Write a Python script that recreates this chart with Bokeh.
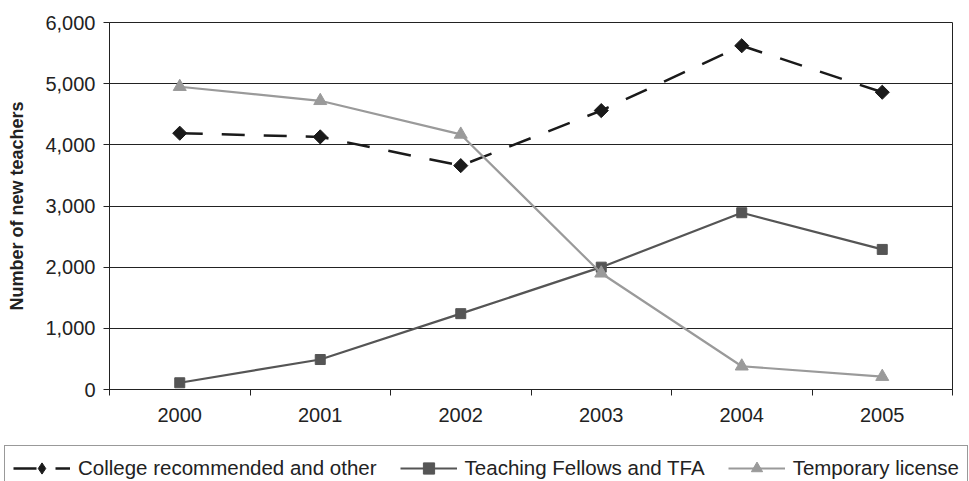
import math
from bokeh.plotting import figure
from bokeh.layouts import column
from bokeh.models import Range1d, FixedTicker, NumeralTickFormatter, Legend, LegendItem
from bokeh.embed import file_html
from bokeh.resources import INLINE

years = ["2000", "2001", "2002", "2003", "2004", "2005"]
college = [4190, 4130, 3660, 4560, 5620, 4860]
fellows = [110, 490, 1240, 2000, 2890, 2290]
temporary = [4950, 4720, 4170, 1900, 380, 210]
y_ticks = [0, 1000, 2000, 3000, 4000, 5000, 6000]
series_names = ["College recommended and other", "Teaching Fellows and TFA", "Temporary license"]

FONT = "Liberation Sans"
c1, c2, c3 = "#1a1a1a", "#555555", "#9a9a9a"
styles = [
    dict(line=dict(line_color=c1, line_width=2.5, line_dash="23 19"),
         marker=dict(marker="square", angle=math.pi / 4, size=10, color=c1),
         legend_marker=dict(marker="diamond", size=10, color=c1)),
    dict(line=dict(line_color=c2, line_width=2.2),
         marker=dict(marker="square", size=10, color=c2),
         legend_marker=dict(marker="square", size=10, color=c2)),
    dict(line=dict(line_color=c3, line_width=2.2),
         marker=dict(marker="triangle", size=13, color=c3),
         legend_marker=dict(marker="triangle", size=13, color=c3)),
]
series = [college, fellows, temporary]

x = [i + 0.5 for i in range(len(years))]
bounds = list(range(len(years) + 1))

p = figure(width=969, height=430, x_range=Range1d(0, len(years)), y_range=Range1d(0, 6000),
           output_backend="svg", toolbar_location=None,
           min_border_left=109, min_border_right=17, min_border_top=22, min_border_bottom=41)
p.frame_align = False

p.background_fill_color = "white"
p.border_fill_color = "white"
p.outline_line_color = "#222222"
p.outline_line_width = 1

# x axis
p.xaxis.ticker = FixedTicker(ticks=x, minor_ticks=bounds)
p.xaxis.major_label_overrides = {xi: yr for xi, yr in zip(x, years)}
p.xaxis.major_tick_out = 0
p.xaxis.major_tick_in = 0
p.xaxis.minor_tick_out = 6
p.xaxis.minor_tick_in = 0
p.xaxis.minor_tick_line_color = "#222222"
p.xaxis.axis_line_color = "#222222"
p.xaxis.major_label_standoff = 12
p.xaxis.major_label_text_font = FONT
p.xaxis.major_label_text_font_size = "20px"
p.xaxis.major_label_text_color = "#222222"
p.xgrid.visible = False

# y axis
p.yaxis.ticker = FixedTicker(ticks=y_ticks, minor_ticks=[])
p.yaxis.formatter = NumeralTickFormatter(format="0,0")
p.yaxis.major_tick_out = 6
p.yaxis.major_tick_in = 0
p.yaxis.major_tick_line_color = "#222222"
p.yaxis.axis_line_color = "#222222"
p.yaxis.major_label_standoff = 8
p.yaxis.major_label_text_font = FONT
p.yaxis.major_label_text_font_size = "20px"
p.yaxis.major_label_text_color = "#222222"
p.yaxis.axis_label = "Number of new teachers"
p.yaxis.axis_label_text_font = FONT
p.yaxis.axis_label_text_font_size = "18px"
p.yaxis.axis_label_text_font_style = "bold"
p.yaxis.axis_label_text_color = "#222222"
p.yaxis.axis_label_standoff = 15
p.ygrid.ticker = FixedTicker(ticks=y_ticks)
p.ygrid.grid_line_color = "#222222"
p.ygrid.grid_line_width = 1

# series
for vals, st in zip(series, styles):
    p.line(x, vals, **st["line"])
    p.scatter(x, vals, **st["marker"])

# legend strip: a separate canvas so the legend is not clipped by the chart frame.
# Its renderers carry the same data, which lies outside this strip's ranges.
lg = figure(width=969, height=51, x_range=Range1d(0, 1), y_range=Range1d(0, 1),
            output_backend="svg", toolbar_location=None, min_border=0,
            x_axis_location=None, y_axis_location=None)
lg.frame_align = False
lg.grid.visible = False
lg.outline_line_color = None
lg.background_fill_color = "white"
lg.border_fill_color = "white"

items = []
for name, vals, st in zip(series_names, series, styles):
    rl = lg.line(x, vals, **st["line"])
    rm = lg.scatter(x, vals, **st["legend_marker"])
    items.append(LegendItem(label=name, renderers=[rl, rm]))

legend = Legend(items=items, location=(4, -10), orientation="horizontal")
legend.glyph_width = 57
legend.glyph_height = 28
legend.label_standoff = 8
legend.spacing = 23
legend.padding = 8
legend.margin = 0
legend.label_text_font = FONT
legend.label_text_font_size = "20.5px"
legend.label_text_color = "#222222"
legend.border_line_color = "#333333"
legend.border_line_width = 1
legend.background_fill_alpha = 1
lg.add_layout(legend)

open("out.html", "w").write(file_html(column(p, lg, spacing=0), INLINE))
